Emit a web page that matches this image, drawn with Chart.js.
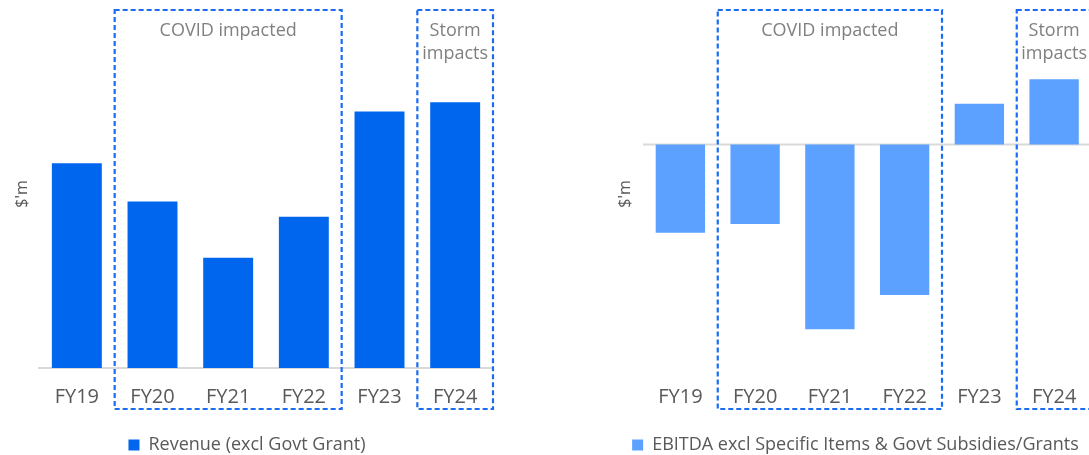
<!DOCTYPE html>
<html>
<head>
<meta charset="utf-8">
<script src="https://cdn.jsdelivr.net/npm/chart.js@4.4.1/dist/chart.umd.min.js"></script>
<style>
    html, body { margin: 0; padding: 0; background: #fff; overflow: hidden; }
    body { width: 1089px; height: 455px; position: relative; }
    .panel { position: absolute; top: 0; height: 455px; }
    #revenuePanel { left: 0; width: 540px; }
    #ebitdaPanel { left: 545px; width: 560px; }
</style>
</head>
<body>
<div class="panel" id="revenuePanel"><canvas id="revenueChart"></canvas></div>
<div class="panel" id="ebitdaPanel"><canvas id="ebitdaChart"></canvas></div>

<script>
// ==========================================
// Data
// ==========================================
const years = ['FY19', 'FY20', 'FY21', 'FY22', 'FY23', 'FY24'];
const revenue = [76.5, 62.2, 41.2, 56.5, 95.8, 99.3];
const ebitda = [-33.0, -29.7, -69.0, -56.2, 15.2, 24.4];

const revenueLabel = 'Revenue (excl Govt Grant)';
const ebitdaLabel = 'EBITDA excl Specific Items & Govt Subsidies/Grants';
const axisTitle = "$'m";

// dashed annotation boxes: [first index, last index, text lines]
const highlights = [
    { from: 1, to: 3, lines: ['COVID impacted'] },
    { from: 5, to: 5, lines: ['Storm', 'impacts'] }
];

const FONT = 'Open Sans';
const TEXT_GREY = '#595959';
const NOTE_GREY = '#808080';
const DASH_BLUE = '#1a6cf5';
const LINE_GREY = '#d9d9d9';

// ==========================================
// Plugins
// ==========================================

// zero line for the chart that goes negative
const zeroLine = {
    id: 'zeroLine',
    beforeDatasetsDraw(chart) {
        const ctx = chart.ctx;
        const area = chart.chartArea;
        const y0 = chart.scales.y.getPixelForValue(0);
        ctx.save();
        ctx.strokeStyle = LINE_GREY;
        ctx.lineWidth = 2;
        ctx.beginPath();
        ctx.moveTo(area.left, y0);
        ctx.lineTo(area.right, y0);
        ctx.stroke();
        ctx.restore();
    }
};

// dashed boxes with their notes
const highlightBoxes = {
    id: 'highlightBoxes',
    afterDraw(chart) {
        const ctx = chart.ctx;
        const x = chart.scales.x;
        const area = chart.chartArea;
        const half = (x.getPixelForValue(1) - x.getPixelForValue(0)) / 2;
        const top = area.top - 10;
        const bottom = area.bottom + 41;

        ctx.save();
        highlights.forEach(h => {
            const left = x.getPixelForValue(h.from) - half;
            const right = x.getPixelForValue(h.to) + half;

            ctx.setLineDash([5, 3]);
            ctx.lineWidth = 2.2;
            ctx.strokeStyle = DASH_BLUE;
            ctx.strokeRect(left, top, right - left, bottom - top);

            ctx.setLineDash([]);
            ctx.fillStyle = NOTE_GREY;
            ctx.font = '18px "' + FONT + '"';
            ctx.textAlign = 'center';
            ctx.textBaseline = 'middle';
            h.lines.forEach((line, i) => {
                ctx.fillText(line, (left + right) / 2, top + 21 + i * 23);
            });
        });
        ctx.restore();
    }
};

// ==========================================
// Shared options
// ==========================================
function buildOptions(cfg) {
    return {
        responsive: true,
        maintainAspectRatio: false,
        animation: false,
        layout: {
            padding: { top: 20, bottom: -9, left: cfg.padLeft, right: cfg.padRight }
        },
        plugins: {
            tooltip: { enabled: false },
            legend: {
                position: 'bottom',
                labels: {
                    boxWidth: 11,
                    boxHeight: 11,
                    padding: 4,
                    color: TEXT_GREY,
                    font: { family: FONT, size: 18 }
                }
            }
        },
        scales: {
            x: {
                grid: { display: false, drawTicks: false },
                border: { display: cfg.showBase, color: LINE_GREY, width: 2 },
                ticks: {
                    padding: 17,
                    color: TEXT_GREY,
                    font: { family: FONT, size: 20 }
                },
                afterFit(scale) { scale.height = 64; }
            },
            y: {
                min: cfg.min,
                max: cfg.max,
                ticks: { display: false },
                grid: { display: false },
                border: { display: false },
                title: {
                    display: true,
                    text: axisTitle,
                    color: TEXT_GREY,
                    padding: { top: cfg.titlePad, bottom: 0 },
                    font: { family: FONT, size: 16, lineHeight: 1 }
                },
                afterFit(scale) { scale.width = cfg.axisWidth; }
            }
        }
    };
}

// ==========================================
// Charts
// ==========================================
new Chart(document.getElementById('revenueChart'), {
    type: 'bar',
    data: {
        labels: years,
        datasets: [{
            label: revenueLabel,
            data: revenue,
            backgroundColor: '#0066ee',
            categoryPercentage: 1,
            barPercentage: 0.66
        }]
    },
    options: buildOptions({
        padLeft: 1, padRight: 47, axisWidth: 38, titlePad: 13,
        min: 0, max: 130, showBase: true
    }),
    plugins: [highlightBoxes]
});

new Chart(document.getElementById('ebitdaChart'), {
    type: 'bar',
    data: {
        labels: years,
        datasets: [{
            label: ebitdaLabel,
            data: ebitda,
            backgroundColor: '#5ca1ff',
            categoryPercentage: 1,
            barPercentage: 0.66
        }]
    },
    options: buildOptions({
        padLeft: 74.5, padRight: 13.5, axisWidth: 23.5, titlePad: -2.5,
        min: -83.5, max: 46.5, showBase: false
    }),
    plugins: [zeroLine, highlightBoxes]
});
</script>
</body>
</html>
